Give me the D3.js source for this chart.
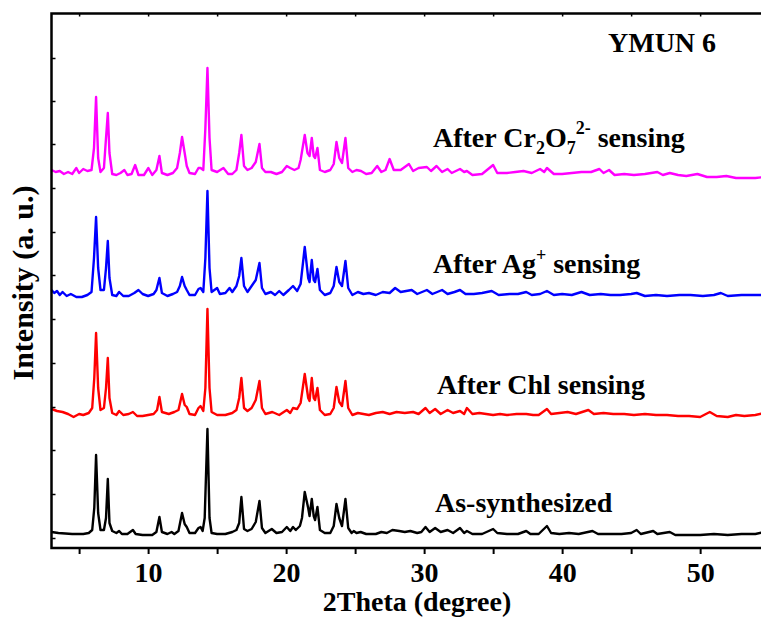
<!DOCTYPE html>
<html>
<head>
<meta charset="utf-8" />
<title>YMUN 6 PXRD</title>
<style>
  body { margin: 0; background: #fff; }
  svg text { font-family: "Liberation Serif", "Times New Roman", serif; font-weight: bold; fill: #000; }
</style>
</head>
<body>
<svg width="761" height="624"></svg>
<script src="https://cdn.jsdelivr.net/npm/d3@7"></script>
<script>
// 2theta / intensity pairs (a. u., stacked)
var asSynth = [[3.0,16],[3.5,15],[4.5,14],[5.3,14],[5.7,15],[5.95,18],[6.1,40],[6.23,93],[6.38,35],[6.55,18],[6.8,18],[6.95,30],[7.08,69],[7.2,25],[7.4,17],[7.7,15],[7.9,17],[8.1,14],[8.5,14],[8.9,18],[9.1,14],[9.6,13],[10.3,13],[10.6,16],[10.82,31],[11.0,16],[11.4,14],[11.7,16],[11.9,14],[12.2,17],[12.46,35],[12.65,24],[12.8,21],[13.0,15],[13.4,15],[13.65,20],[13.8,21],[13.95,17],[14.1,30],[14.3,119],[14.45,30],[14.6,15],[15.0,14],[15.6,14],[16.1,16],[16.4,18],[16.6,25],[16.76,51],[16.95,19],[17.2,17],[17.5,19],[17.8,26],[18.07,47],[18.25,20],[18.5,15],[18.96,19],[19.3,15],[19.7,16],[20.05,21],[20.3,17],[20.5,21],[20.7,18],[21.0,22],[21.15,30],[21.35,56],[21.6,40],[21.7,32],[21.86,49],[22.0,32],[22.1,28],[22.27,41],[22.45,18],[22.8,15],[23.2,15],[23.45,22],[23.65,44],[23.85,30],[24.05,22],[24.3,49],[24.5,20],[24.75,15],[24.9,17],[25.1,15],[25.4,16],[25.8,14],[26.5,14],[26.9,16],[27.3,15],[27.7,18],[28.2,17],[28.6,16],[29.0,17],[29.5,15],[29.8,16],[30.1,21],[30.4,16],[30.8,20],[31.2,16],[31.7,18],[32.1,15],[32.6,20],[32.9,15],[33.1,17],[33.5,14],[34.2,14],[35.0,19],[35.3,15],[36.0,14],[36.8,14],[37.4,17],[37.7,14],[38.3,14],[38.9,22],[39.2,15],[39.8,14],[40.5,15],[41.2,14],[42.2,17],[42.6,14],[43.5,14],[44.3,14],[45.0,15],[45.4,18],[45.7,14],[46.6,17],[46.9,14],[47.8,16],[48.2,13],[49.0,13],[50.0,13],[51.0,14],[52.0,13],[53.0,14],[54.0,14],[54.7,16]];

var afterChl = [[3.0,139],[3.4,137],[3.8,136],[4.2,134],[4.6,131],[5.0,134],[5.3,133],[5.7,135],[5.95,140],[6.1,170],[6.23,215],[6.38,160],[6.55,138],[6.8,140],[6.95,160],[7.08,190],[7.2,150],[7.4,135],[7.7,133],[7.9,137],[8.2,133],[8.6,134],[8.9,136],[9.2,132],[9.6,132],[10.0,133],[10.4,134],[10.65,138],[10.82,151],[11.0,136],[11.5,134],[11.9,136],[12.2,138],[12.46,154],[12.65,143],[12.8,141],[13.0,134],[13.4,133],[13.65,140],[13.8,142],[14.0,137],[14.15,160],[14.3,239],[14.45,160],[14.6,136],[15.0,133],[15.6,133],[16.1,135],[16.4,138],[16.6,150],[16.76,170],[16.95,140],[17.2,137],[17.5,140],[17.8,148],[18.07,167],[18.25,140],[18.5,134],[19.0,136],[19.5,133],[20.05,138],[20.3,135],[20.5,140],[20.8,139],[21.05,145],[21.35,174],[21.6,150],[21.7,147],[21.86,170],[22.0,150],[22.1,148],[22.27,160],[22.45,138],[22.8,133],[23.2,134],[23.45,140],[23.65,161],[23.85,146],[24.05,142],[24.3,167],[24.5,140],[24.8,133],[25.2,135],[25.6,134],[26.0,133],[26.5,135],[27.0,136],[27.5,134],[28.0,136],[28.6,135],[29.2,136],[29.6,134],[30.1,140],[30.4,135],[30.8,139],[31.2,134],[31.7,138],[32.1,135],[32.6,137],[32.9,134],[33.1,140],[33.5,134],[34.0,135],[34.5,134],[35.0,133],[35.5,134],[36.0,133],[36.7,134],[37.4,134],[37.9,133],[38.3,133],[38.9,139],[39.2,134],[39.8,135],[40.4,136],[41.0,134],[41.9,138],[42.3,134],[43.0,135],[43.7,134],[44.5,134],[45.2,133],[46.0,134],[46.8,133],[47.6,133],[48.4,132],[49.2,132],[50.0,131],[50.7,136],[51.2,132],[52.0,131],[52.6,133],[53.2,132],[54.0,133],[54.7,135]];

var afterAg = [[3.0,258],[3.2,255],[3.4,257],[3.6,253],[3.8,256],[4.1,252],[4.4,254],[4.8,251],[5.2,251],[5.6,253],[5.9,256],[6.08,290],[6.23,331],[6.38,280],[6.55,258],[6.8,258],[6.95,280],[7.08,307],[7.2,270],[7.4,253],[7.7,252],[7.9,256],[8.2,252],[8.6,252],[9.0,255],[9.3,258],[9.6,254],[10.0,252],[10.4,254],[10.6,258],[10.82,270],[11.0,255],[11.4,252],[11.8,254],[12.1,256],[12.3,262],[12.46,271],[12.65,262],[12.8,258],[13.0,253],[13.4,253],[13.65,259],[13.8,260],[14.0,256],[14.15,290],[14.3,357],[14.45,280],[14.6,256],[15.0,260],[15.2,254],[15.6,255],[15.9,260],[16.1,256],[16.4,262],[16.6,272],[16.76,290],[16.95,262],[17.2,256],[17.5,262],[17.8,268],[18.07,285],[18.25,260],[18.5,254],[18.9,256],[19.2,253],[19.5,257],[19.8,253],[20.2,258],[20.5,262],[20.8,257],[21.05,264],[21.35,301],[21.6,270],[21.7,266],[21.86,288],[22.0,268],[22.1,266],[22.27,279],[22.45,258],[22.8,253],[23.2,255],[23.45,262],[23.65,281],[23.85,266],[24.05,262],[24.3,287],[24.5,260],[24.8,253],[25.2,256],[25.6,254],[26.0,255],[26.5,253],[27.0,256],[27.5,255],[27.9,260],[28.3,256],[28.7,257],[29.1,258],[29.5,254],[30.2,258],[30.6,254],[31.3,258],[31.7,254],[32.2,256],[32.6,258],[33.0,254],[33.6,254],[34.2,255],[34.9,257],[35.4,253],[36.2,254],[36.8,254],[37.4,256],[37.8,253],[38.4,254],[38.9,257],[39.4,253],[40.0,254],[40.7,253],[41.4,256],[42.0,253],[42.8,254],[43.5,253],[44.2,253],[45.0,254],[45.4,255],[46.0,252],[46.8,253],[47.6,252],[48.5,253],[49.3,253],[50.2,252],[51.0,253],[51.5,255],[52.0,252],[53.0,253],[54.0,253],[54.7,253]];

var afterCr = [[3.0,378],[3.3,376],[3.6,377],[3.9,374],[4.2,376],[4.5,374],[4.8,380],[5.0,375],[5.3,379],[5.6,377],[5.9,378],[6.08,400],[6.23,451],[6.38,390],[6.55,376],[6.8,380],[6.95,410],[7.08,435],[7.2,395],[7.4,374],[7.7,373],[8.0,375],[8.28,378],[8.5,373],[8.8,374],[9.06,383],[9.3,373],[9.7,373],[10.02,380],[10.3,373],[10.6,378],[10.82,392],[11.0,375],[11.4,373],[11.8,375],[12.1,380],[12.3,395],[12.46,411],[12.65,395],[12.8,382],[13.0,375],[13.4,374],[13.65,380],[13.8,380],[14.0,378],[14.15,420],[14.3,480],[14.45,410],[14.6,378],[15.0,376],[15.46,380],[15.8,374],[16.1,374],[16.4,378],[16.6,395],[16.76,413],[16.95,382],[17.2,378],[17.5,380],[17.8,386],[18.07,404],[18.25,380],[18.5,376],[18.9,376],[19.3,374],[19.7,376],[20.05,382],[20.3,380],[20.6,378],[20.9,380],[21.05,388],[21.35,413],[21.55,395],[21.7,392],[21.86,410],[22.0,392],[22.1,390],[22.27,400],[22.45,378],[22.8,376],[23.2,378],[23.45,384],[23.65,406],[23.85,390],[24.05,385],[24.3,410],[24.5,380],[24.8,376],[25.1,378],[25.43,377],[25.8,374],[26.2,375],[26.6,382],[26.9,376],[27.2,378],[27.5,389],[27.8,378],[28.3,378],[28.9,384],[29.2,377],[29.6,380],[30.2,381],[30.5,377],[30.9,382],[31.3,376],[31.7,379],[32.0,375],[32.6,379],[32.9,376],[33.1,377],[33.5,373],[34.2,374],[35.0,383],[35.3,375],[36.0,375],[36.6,376],[37.2,377],[37.8,375],[38.4,379],[38.7,376],[38.9,380],[39.4,374],[40.0,374],[40.7,375],[41.4,376],[42.1,376],[42.7,379],[43.0,375],[43.4,378],[43.8,373],[44.5,374],[45.2,373],[46.0,374],[46.9,376],[47.3,373],[47.8,375],[48.4,373],[49.0,372],[49.8,374],[50.5,371],[51.2,371],[51.9,372],[52.6,370],[53.4,370],[54.0,370],[54.7,371]];

var seriesColors = ["#000000", "#ff0000", "#0000ff", "#ff00ff"];
var xTicks = [10, 20, 30, 40, 50];
var xMinorTicks = [5, 10, 15, 20, 25, 30, 35, 40, 45, 50];
var yTicks = [10, 54, 98, 141, 185, 229, 273, 316, 360, 404, 447, 490];

var svg = d3.select("svg");
var mLeft = 51.5, mTop = 13.5, mRight = 765, mBottom = 548;

var x = d3.scaleLinear().domain([3, 54.7]).range([mLeft, mRight]);
var y = d3.scaleLinear().domain([0, 534.5]).range([mBottom, mTop]);

var line = d3.line()
    .x(function (d) { return x(d[0]); })
    .y(function (d) { return y(d[1]); });

var plot = svg.append("g");
[asSynth, afterChl, afterAg, afterCr].forEach(function (s, i) {
    plot.append("path")
        .datum(s)
        .attr("d", line)
        .attr("fill", "none")
        .attr("stroke", seriesColors[i])
        .attr("stroke-width", 2.4)
        .attr("stroke-linejoin", "round");
});

// axes
var xAxis = svg.append("g")
    .attr("transform", "translate(0," + mBottom + ")")
    .call(d3.axisBottom(x).tickValues(xMinorTicks).tickSize(6).tickFormat(""));
xAxis.select(".domain").remove();
xAxis.selectAll(".tick line").attr("stroke-width", 2);

var xLab = svg.append("g")
    .attr("transform", "translate(0," + mBottom + ")")
    .call(d3.axisBottom(x).tickValues(xTicks).tickSize(0).tickPadding(14).tickFormat(d3.format("d")));
xLab.select(".domain").remove();
xLab.selectAll("text").attr("font-size", 28).attr("font-family", null).attr("dy", "0.71em");

var topAxis = svg.append("g")
    .attr("transform", "translate(0," + mTop + ")")
    .call(d3.axisBottom(x).tickValues(xMinorTicks).tickSize(3).tickFormat(""));
topAxis.select(".domain").remove();
topAxis.selectAll(".tick line").attr("stroke-width", 1.5);

var yAxis = svg.append("g")
    .attr("transform", "translate(" + mLeft + ",0)")
    .call(d3.axisRight(y).tickValues(yTicks).tickSize(4).tickFormat(""));
yAxis.select(".domain").remove();
yAxis.selectAll(".tick line").attr("stroke-width", 1.5);

svg.append("rect")
    .attr("x", mLeft).attr("y", mTop)
    .attr("width", mRight - mLeft).attr("height", mBottom - mTop)
    .attr("fill", "none").attr("stroke", "#000").attr("stroke-width", 2.5);

// titles
svg.append("text")
    .attr("x", 417).attr("y", 611)
    .attr("text-anchor", "middle")
    .attr("font-size", 28)
    .text("2Theta (degree)");

svg.append("text")
    .attr("transform", "translate(33,283) rotate(-90)")
    .attr("text-anchor", "middle")
    .attr("font-size", 30)
    .text("Intensity (a. u.)");

svg.append("text")
    .attr("x", 608).attr("y", 52)
    .attr("font-size", 28)
    .text("YMUN 6");

// curve labels
var t1 = svg.append("text").attr("x", 433).attr("y", 147).attr("font-size", 28);
t1.append("tspan").text("After Cr");
t1.append("tspan").attr("font-size", 18).attr("dy", 7).text("2");
t1.append("tspan").attr("dy", -7).text("O");
t1.append("tspan").attr("font-size", 18).attr("dy", 7).text("7");
t1.append("tspan").attr("font-size", 18).attr("dy", -20).text("2-");
t1.append("tspan").attr("dy", 13).text(" sensing");

var t2 = svg.append("text").attr("x", 433).attr("y", 273).attr("font-size", 28);
t2.append("tspan").text("After Ag");
t2.append("tspan").attr("font-size", 18).attr("dy", -12).text("+");
t2.append("tspan").attr("dy", 12).text(" sensing");

svg.append("text").attr("x", 437).attr("y", 394).attr("font-size", 28).text("After Chl sensing");
svg.append("text").attr("x", 435).attr("y", 512).attr("font-size", 28).text("As-synthesized");
</script>
</body>
</html>
